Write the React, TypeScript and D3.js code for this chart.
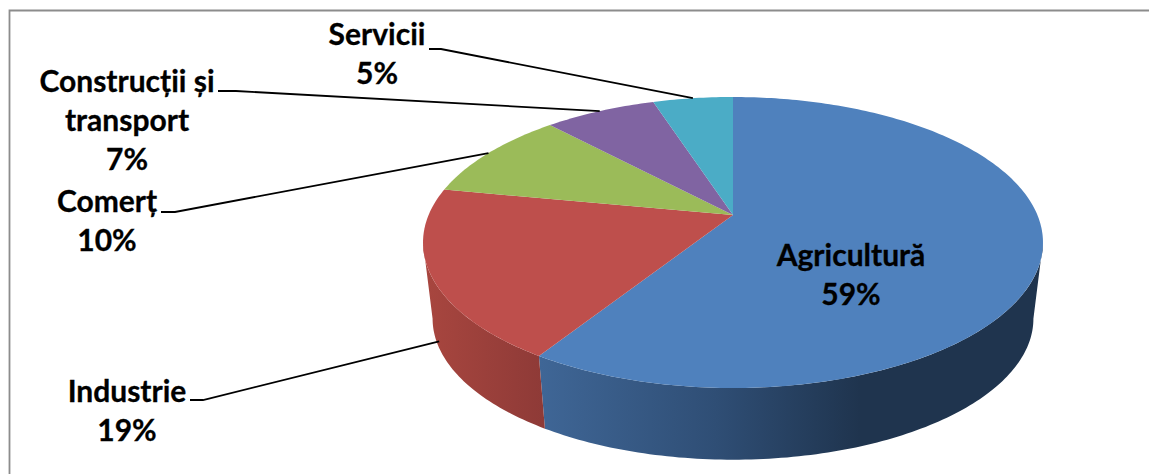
import React from "react";
import * as d3 from "d3";

const categories = ["Agricultură", "Industrie", "Comerț", "Construcții și transport", "Servicii"];
const shares = [59, 19, 10, 7, 5];
const topColors = ["#4f81bd", "#be4f4c", "#9bbb59", "#8064a2", "#4bacc6"];

// label lines + where they sit, leader is [textEnd, elbow]
const labelLayout = [
  { lines: ["Agricultură", "59%"], x: 851, y: 266, leader: null, depth: 0 },
  { lines: ["Industrie", "19%"], x: 127, y: 402, leader: [190, 203, 400], depth: 0.88 },
  { lines: ["Comerț", "10%"], x: 107, y: 212, leader: [161, 175, 212], depth: 0 },
  { lines: ["Construcții și", "transport", "7%"], x: 127, y: 92, leader: [218, 236, 91], depth: 0 },
  { lines: ["Servicii", "5%"], x: 377, y: 45, leader: [429, 441, 49], depth: 0 },
];

const width = 1149;
const height = 474;
const cx = 733;
const tilt = 0.189; // perspective of the pie plane

const topFace = { y0: 215, a: 304.4, b: 140.3 };
const bottomFace = { y0: 292, a: 295, b: 136 };

type Face = typeof topFace;

const project = (face: Face, angle: number): [number, number] => {
  const X = Math.sin(angle);
  const Y = -Math.cos(angle);
  const den = 1 - tilt * Y;
  return [cx + (face.a * X) / den, face.y0 + (face.b * Y) / den];
};

const rim = (face: Face, a0: number, a1: number) => {
  const n = Math.max(2, Math.ceil(Math.abs(a1 - a0) * 60));
  return d3.range(n + 1).map((i) => project(face, a0 + ((a1 - a0) * i) / n));
};

const line = d3.line();

const pie = d3
  .pie<number>()
  .sort(null)
  .value((d) => d);

const arcs = pie(shares);

// the side only shows below the widest part of the rim
const sideStart = Math.PI - Math.acos(tilt);
const sideEnd = Math.PI + Math.acos(tilt);

const sidePath = (a0: number, a1: number) => {
  const from = Math.max(a0, sideStart);
  const to = Math.min(a1, sideEnd);
  if (to <= from) return null;
  return line([...rim(topFace, from, to), ...rim(bottomFace, from, to).reverse()]) + "Z";
};

const lineGap = 39;

export default function App() {
  return (
    <svg
      width={width}
      height={height}
      style={{ position: "absolute", left: 0, top: 0, background: "#fff" }}
      fontFamily="Lato, 'Open Sans', sans-serif"
      fontWeight={700}
    >
      <defs>
        <linearGradient id="side0" gradientUnits="userSpaceOnUse" x1={540} x2={860} y1={0} y2={0}>
          <stop offset="0" stopColor="#3f6696" />
          <stop offset="0.55" stopColor="#2f4e75" />
          <stop offset="1" stopColor="#1f344e" />
        </linearGradient>
        <linearGradient id="side1" gradientUnits="userSpaceOnUse" x1={425} x2={545} y1={0} y2={0}>
          <stop offset="0" stopColor="#a8463f" />
          <stop offset="1" stopColor="#8e3a37" />
        </linearGradient>
      </defs>
      <path d="M1149,10.5H9.5V474" fill="none" stroke="#8c8c8c" strokeWidth={1.8} />

      {arcs.map((d, i) => {
        const p = sidePath(d.startAngle, d.endAngle);
        return p ? <path key={i} d={p} fill={`url(#side${i})`} /> : null;
      })}
      {arcs.map((d, i) => (
        <path
          key={categories[i]}
          d={line([[cx, topFace.y0], ...rim(topFace, d.startAngle, d.endAngle)]) + "Z"}
          fill={topColors[i]}
        />
      ))}

      {arcs.map((d, i) => {
        const lay = labelLayout[i];
        if (!lay.leader) return null;
        const mid = (d.startAngle + d.endAngle) / 2;
        const t = project(topFace, mid);
        const b = project(bottomFace, mid);
        const end = [t[0] + (b[0] - t[0]) * lay.depth, t[1] + (b[1] - t[1]) * lay.depth] as [number, number];
        const [x0, x1, y] = lay.leader;
        return (
          <path
            key={i}
            d={line([[x0, y], [x1, y], end]) as string}
            fill="none"
            stroke="#000"
            strokeWidth={1.8}
          />
        );
      })}

      {labelLayout.map((lay, i) => (
        <text key={i} textAnchor="middle" fontSize={30} fill="#000" stroke="#000" strokeWidth={0.3}>
          {lay.lines.map((s, j) => (
            <tspan key={j} x={lay.x} y={lay.y + j * lineGap}>
              {s}
            </tspan>
          ))}
        </text>
      ))}
    </svg>
  );
}
